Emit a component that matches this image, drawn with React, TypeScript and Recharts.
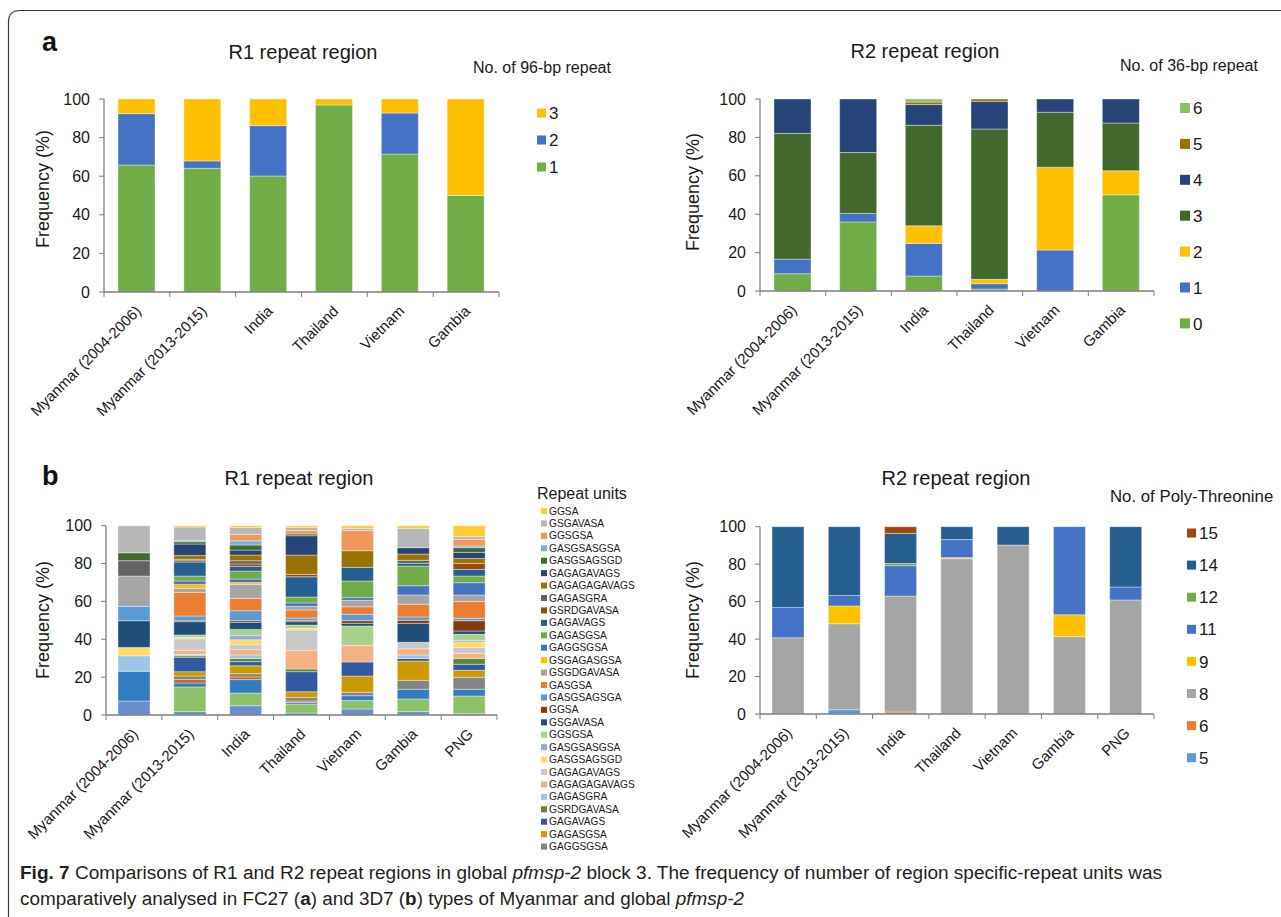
import React from 'react';
import { BarChart, Bar, XAxis, YAxis } from 'recharts';

const FONT = "'Liberation Sans', Arial, sans-serif";
const AXIS = '#7f7f7f';
const TXT = '#1a1a1a';

// ---------- Panel a ----------
const aCategories = ['Myanmar (2004-2006)', 'Myanmar (2013-2015)', 'India', 'Thailand', 'Vietnam', 'Gambia'];
// R1: No. of 96-bp repeat
const aR1Names = ['1', '2', '3'];
const aR1Colors = ['#70AD47', '#4472C4', '#FFC000'];
const aR1_1 = [65.8, 64.1, 60.1, 96.9, 71.5, 50.0];
const aR1_2 = [26.6, 3.8, 26.1, 0, 21.2, 0];
const aR1_3 = [7.6, 32.1, 13.8, 3.1, 7.3, 50.0];
// R2: No. of 36-bp repeat
const aR2Names = ['0', '1', '2', '3', '4', '5', '6'];
const aR2Colors = ['#70AD47', '#4472C4', '#FFC000', '#43682B', '#264478', '#997300', '#8CC168'];
const aR2_0 = [9.0, 36.0, 7.8, 1.0, 0, 50.1];
const aR2_1 = [7.6, 4.4, 17.0, 2.8, 21.3, 0];
const aR2_2 = [0, 0, 9.2, 2.3, 43.2, 12.5];
const aR2_3 = [65.5, 31.7, 52.3, 78.3, 28.6, 24.9];
const aR2_4 = [17.9, 27.9, 10.8, 14.4, 6.9, 12.5];
const aR2_5 = [0, 0, 1.3, 1.2, 0, 0];
const aR2_6 = [0, 0, 1.6, 0, 0, 0];

// ---------- Panel b ----------
const bCategories = ['Myanmar (2004-2006)', 'Myanmar (2013-2015)', 'India', 'Thailand', 'Vietnam', 'Gambia', 'PNG'];
// R1: repeat units (stack order bottom -> top)
const bR1Names = [
  'GASGSAGSGA', 'GASGSA', 'GSGDGAVASA', 'GSGAGASGSA', 'GAGGSGSA', 'GAGASGSA', 'GAGAVAGS', 'GSRDGAVASA',
  'GAGASGRA', 'GAGAGAGAVAGS', 'GAGAGAVAGS', 'GASGSAGSGD', 'GASGSASGSA', 'GGSGSA', 'GSGAVASA', 'GGSA',
  'GASGSAGSGA', 'GASGSA', 'GSGDGAVASA', 'GSGAGASGSA', 'GAGGSGSA', 'GAGASGSA', 'GAGAVAGS', 'GSRDGAVASA',
  'GAGASGRA', 'GAGAGAGAVAGS', 'GAGAGAVAGS', 'GASGSAGSGD', 'GASGSASGSA', 'GGSGSA', 'GSGAVASA', 'GGSA',
];
const bR1Colors = [
  '#698ED0', '#8CC168', '#327DC2', '#D26012', '#848484', '#CC9A00', '#335AA1', '#5A8A39',
  '#9DC3E6', '#F4B183', '#C9C9C9', '#FFD966', '#8FAADC', '#A9D18E', '#1F4E79', '#843C0C',
  '#5B9BD5', '#ED7D31', '#A5A5A5', '#FFC000', '#4472C4', '#70AD47', '#255E91', '#9E480E',
  '#636363', '#997300', '#264478', '#43682B', '#7CAFDD', '#F1975A', '#B7B7B7', '#FFCD33',
];
const bR1Myanmar0406 = [7.4, 0, 15.7, 0, 0, 0, 0, 0, 8.2, 0, 0, 4.4, 0, 0, 14.1, 0, 7.6, 0, 16.0, 0, 0, 0, 0, 0, 8.1, 0, 0, 4.2, 0, 0, 14.3, 0];
const bR1Myanmar1315 = [1.8, 13.0, 2.1, 1.8, 1.9, 2.3, 7.6, 0.8, 0.7, 2.2, 6.1, 0.7, 0, 1.3, 7.0, 0.5, 2.5, 12.5, 2.1, 2.1, 1.8, 2.6, 7.4, 0.7, 0.7, 2.0, 6.1, 1.2, 0.8, 0, 7.0, 0.7];
const bR1India = [4.9, 6.7, 7.1, 1.4, 1.7, 4.2, 2.2, 1.7, 1.8, 2.8, 2.6, 2.7, 2.1, 3.3, 3.7, 0.9, 5.3, 6.5, 7.4, 1.0, 1.8, 4.2, 2.5, 1.3, 1.7, 3.0, 2.6, 2.7, 2.2, 3.4, 3.6, 1.0];
const bR1Thailand = [1.1, 4.7, 0.9, 0.7, 1.9, 3.0, 10.6, 1.4, 0, 9.7, 10.9, 0.9, 0, 1.7, 1.8, 0.7, 1.2, 4.3, 1.9, 0, 1.8, 3.1, 10.7, 1.3, 0, 10.2, 10.2, 0.9, 0, 1.8, 1.7, 0.9];
const bR1Vietnam = [3.2, 4.4, 2.6, 0, 1.8, 8.6, 7.4, 0, 0, 8.8, 0, 0, 0, 10.2, 1.4, 1.4, 3.4, 4.0, 3.4, 0, 1.4, 8.8, 7.2, 0, 0, 8.8, 0, 0, 0, 10.6, 1.2, 1.4];
const bR1Gambia = [1.8, 6.7, 5.1, 0, 4.7, 10.2, 1.4, 0, 1.8, 3.3, 3.4, 0, 0, 0, 10.0, 1.6, 1.8, 6.7, 4.9, 0, 4.9, 10.4, 1.4, 0, 1.6, 3.3, 3.4, 0, 0, 0, 10.2, 1.4];
const bR1PNG = [0.7, 9.3, 3.6, 0, 6.3, 3.7, 3.2, 3.1, 0, 2.7, 3.1, 2.9, 0.8, 3.2, 1.8, 5.4, 1.3, 8.8, 3.5, 0, 6.5, 3.5, 3.5, 3.2, 0, 2.6, 3.2, 2.5, 0.9, 3.5, 1.4, 5.8];
const bR1LegendCount = 28; // legend lists the top 28 series

// R2: No. of Poly-Threonine
const bR2Names = ['5', '6', '8', '9', '11', '12', '14', '15'];
const bR2Colors = ['#5B9BD5', '#ED7D31', '#A5A5A5', '#FFC000', '#4472C4', '#70AD47', '#255E91', '#9E480E'];
const bR2_5 = [0, 2.3, 0, 0, 0, 0, 0];
const bR2_6 = [0, 0, 1.1, 0, 0, 0, 0];
const bR2_8 = [40.7, 45.9, 61.9, 82.9, 90.2, 41.3, 60.9];
const bR2_9 = [0, 9.5, 0, 0.6, 0, 11.7, 0];
const bR2_11 = [16.2, 5.6, 16.2, 9.6, 0, 47.0, 6.9];
const bR2_12 = [0, 0, 1.2, 0, 0, 0, 0];
const bR2_14 = [43.1, 36.7, 16.0, 6.9, 9.8, 0, 32.2];
const bR2_15 = [0, 0, 3.6, 0, 0, 0, 0];

const yTicks = [0, 20, 40, 60, 80, 100];

type Series = { key: string; name: string; color: string };

function buildRows(cats: string[], cols: number[][], keys: string[]) {
  return cats.map((c, i) => {
    const row: Record<string, any> = { cat: c };
    keys.forEach((k, j) => (row[k] = cols[j][i]));
    return row;
  });
}

const aR1Series: Series[] = aR1Names.map((n, i) => ({ key: 'k' + i, name: n, color: aR1Colors[i] }));
const aR1Rows = buildRows(aCategories, [aR1_1, aR1_2, aR1_3], aR1Series.map((s) => s.key));
const aR2Series: Series[] = aR2Names.map((n, i) => ({ key: 'k' + i, name: n, color: aR2Colors[i] }));
const aR2Rows = buildRows(aCategories, [aR2_0, aR2_1, aR2_2, aR2_3, aR2_4, aR2_5, aR2_6], aR2Series.map((s) => s.key));
const bR1Series: Series[] = bR1Names.map((n, i) => ({ key: 'u' + i, name: n, color: bR1Colors[i] }));
const bR1ByCat = [bR1Myanmar0406, bR1Myanmar1315, bR1India, bR1Thailand, bR1Vietnam, bR1Gambia, bR1PNG];
const bR1Rows = bCategories.map((c, i) => {
  const row: Record<string, any> = { cat: c };
  bR1Series.forEach((s, j) => (row[s.key] = bR1ByCat[i][j]));
  return row;
});
const bR2Series: Series[] = bR2Names.map((n, i) => ({ key: 'k' + i, name: n, color: bR2Colors[i] }));
const bR2Rows = buildRows(bCategories, [bR2_5, bR2_6, bR2_8, bR2_9, bR2_11, bR2_12, bR2_14, bR2_15], bR2Series.map((s) => s.key));

type PanelProps = {
  left: number; top: number; width: number; height: number;
  plotL: number; plotR: number; plotT: number; plotB: number;
  rows: any[]; series: Series[]; cats: string[]; barSize: number;
  tickFont: number; labelFont: number; dx: number; dy: number;
};

function Panel(p: PanelProps) {
  const yW = 60;
  const n = p.cats.length;
  const bw = (p.plotR - p.plotL) / n;
  const renderTick = (props: any) => {
    const { x, y, payload } = props;
    const idx = p.cats.indexOf(payload.value);
    const ax = x + p.dx;
    const ay = y + p.dy;
    return (
      <g>
        <line x1={x - bw / 2} x2={x - bw / 2} y1={y} y2={y + 5} stroke={AXIS} strokeWidth={1} />
        {idx === n - 1 && <line x1={x + bw / 2} x2={x + bw / 2} y1={y} y2={y + 5} stroke={AXIS} strokeWidth={1} />}
        <text x={ax} y={ay} textAnchor="end" transform={`rotate(-45 ${ax} ${ay})`} fontSize={p.labelFont} fill={TXT} fontFamily={FONT}>
          {payload.value}
        </text>
      </g>
    );
  };
  return (
    <div style={{ position: 'absolute', left: p.left, top: p.top }}>
      <BarChart
        width={p.width}
        height={p.height}
        data={p.rows}
        margin={{ top: p.plotT - p.top, right: p.left + p.width - p.plotR, left: p.plotL - p.left - yW, bottom: 0 }}
        barCategoryGap={0}
      >
        <XAxis
          dataKey="cat"
          interval={0}
          height={p.top + p.height - p.plotB}
          tickSize={0}
          tickMargin={0}
          tickLine={false}
          axisLine={{ stroke: AXIS, strokeWidth: 1.3 }}
          tick={renderTick}
        />
        <YAxis
          width={yW}
          domain={[0, 100]}
          ticks={yTicks}
          interval={0}
          tickSize={5}
          tickMargin={9}
          axisLine={{ stroke: AXIS, strokeWidth: 1.3 }}
          tickLine={{ stroke: AXIS }}
          tick={{ fontSize: p.tickFont, fill: TXT, fontFamily: FONT }}
        />
        {p.series.map((s) => (
          <Bar
            key={s.key}
            dataKey={s.key}
            name={s.name}
            stackId="s"
            fill={s.color}
            barSize={p.barSize}
            stroke="#ffffff"
            strokeOpacity={0.55}
            strokeWidth={0.7}
            isAnimationActive={false}
          />
        ))}
      </BarChart>
    </div>
  );
}

function LegendBig({ x, y0, step, size, font, items }: { x: number; y0: number; step: number; size: number; font: number; items: Series[] }) {
  return (
    <g>
      {items.map((s, i) => (
        <g key={i}>
          <rect x={x} y={y0 + i * step - size / 2} width={size} height={size} fill={s.color} />
          <text x={x + size + 3} y={y0 + i * step + font * 0.36} fontSize={font} fill={TXT} fontFamily={FONT}>{s.name}</text>
        </g>
      ))}
    </g>
  );
}

export default function App() {
  const bLegend = bR1Series.slice(bR1Series.length - bR1LegendCount).reverse();
  return (
    <div style={{ position: 'absolute', left: 0, top: 0, width: 1281, height: 917, background: '#fff', overflow: 'hidden' }}>
      <svg width={1281} height={917} style={{ position: 'absolute', left: 0, top: 0 }}>
        <path d="M 8.5 1000 L 8.5 22 Q 8.5 10.5 20 10.5 L 1300 10.5" fill="none" stroke="#3a3a3a" strokeWidth={1.2} />
        {/* panel labels & titles */}
        <text x={42} y={51} fontSize={27} fontWeight="bold" fill="#111" fontFamily={FONT}>a</text>
        <text x={42} y={485} fontSize={27} fontWeight="bold" fill="#111" fontFamily={FONT}>b</text>
        <text x={303} y={59} fontSize={20} textAnchor="middle" fill={TXT} fontFamily={FONT}>R1 repeat region</text>
        <text x={925} y={58} fontSize={20} textAnchor="middle" fill={TXT} fontFamily={FONT}>R2 repeat region</text>
        <text x={299} y={485} fontSize={20} textAnchor="middle" fill={TXT} fontFamily={FONT}>R1 repeat region</text>
        <text x={956} y={485} fontSize={20} textAnchor="middle" fill={TXT} fontFamily={FONT}>R2 repeat region</text>
        <text x={473} y={73} fontSize={16} fill={TXT} fontFamily={FONT}>No. of 96-bp repeat</text>
        <text x={1120} y={71} fontSize={16} fill={TXT} fontFamily={FONT}>No. of 36-bp repeat</text>
        <text x={1110} y={502} fontSize={16.8} fill={TXT} fontFamily={FONT}>No. of Poly-Threonine</text>
        <text x={537} y={499} fontSize={16} fill={TXT} fontFamily={FONT}>Repeat units</text>
        {/* y-axis titles */}
        {[[43, 189], [693, 192], [43, 620], [693, 620]].map(([cx, cy], i) => (
          <text key={i} x={cx} y={cy} fontSize={18} textAnchor="middle" dominantBaseline="central" transform={`rotate(-90 ${cx} ${cy})`} fill={TXT} fontFamily={FONT}>Frequency (%)</text>
        ))}
        {/* legends */}
        <LegendBig x={537} y0={113} step={27} size={9} font={17} items={[...aR1Series].reverse()} />
        <LegendBig x={1180} y0={108} step={35.9} size={10} font={17} items={[...aR2Series].reverse()} />
        <LegendBig x={1187} y0={533} step={32.1} size={9} font={17} items={[...bR2Series].reverse()} />
        <g>
          {bLegend.map((s, i) => (
            <g key={i}>
              <rect x={541} y={511 + i * 12.43 - 3} width={6} height={6} fill={s.color} />
              <text x={549} y={511 + i * 12.43 + 3.6} fontSize={10.2} fill={TXT} fontFamily={FONT}>{s.name}</text>
            </g>
          ))}
        </g>
        {/* caption */}
        <text x={20} y={879} fontSize={18} fill="#231f20" fontFamily={FONT} textLength={1142} lengthAdjust="spacingAndGlyphs">
          <tspan fontWeight="bold">Fig. 7</tspan>
          <tspan>{'  Comparisons of R1 and R2 repeat regions in global '}</tspan>
          <tspan fontStyle="italic">pfmsp-2</tspan>
          <tspan>{' block 3. The frequency of number of region specific-repeat units was'}</tspan>
        </text>
        <text x={20} y={905} fontSize={18} fill="#231f20" fontFamily={FONT} textLength={724} lengthAdjust="spacingAndGlyphs">
          <tspan>{'comparatively analysed in FC27 ('}</tspan>
          <tspan fontWeight="bold">a</tspan>
          <tspan>{') and 3D7 ('}</tspan>
          <tspan fontWeight="bold">b</tspan>
          <tspan>{') types of Myanmar and global '}</tspan>
          <tspan fontStyle="italic">pfmsp-2</tspan>
        </text>
      </svg>
      <Panel left={0} top={80} width={520} height={360} plotL={104} plotR={499} plotT={99} plotB={292}
        rows={aR1Rows} series={aR1Series} cats={aCategories} barSize={37} tickFont={16} labelFont={15} dx={5} dy={20} />
      <Panel left={640} top={80} width={530} height={360} plotL={760} plotR={1154} plotT={99} plotB={291}
        rows={aR2Rows} series={aR2Series} cats={aCategories} barSize={37} tickFont={16} labelFont={15} dx={5} dy={20} />
      <Panel left={0} top={505} width={520} height={345} plotL={106} plotR={497} plotT={525.7} plotB={715}
        rows={bR1Rows} series={bR1Series} cats={bCategories} barSize={32} tickFont={16} labelFont={15} dx={5} dy={20} />
      <Panel left={640} top={505} width={530} height={345} plotL={760} plotR={1154} plotT={526.7} plotB={714}
        rows={bR2Rows} series={bR2Series} cats={bCategories} barSize={32} tickFont={16} labelFont={15} dx={5} dy={20} />
    </div>
  );
}
